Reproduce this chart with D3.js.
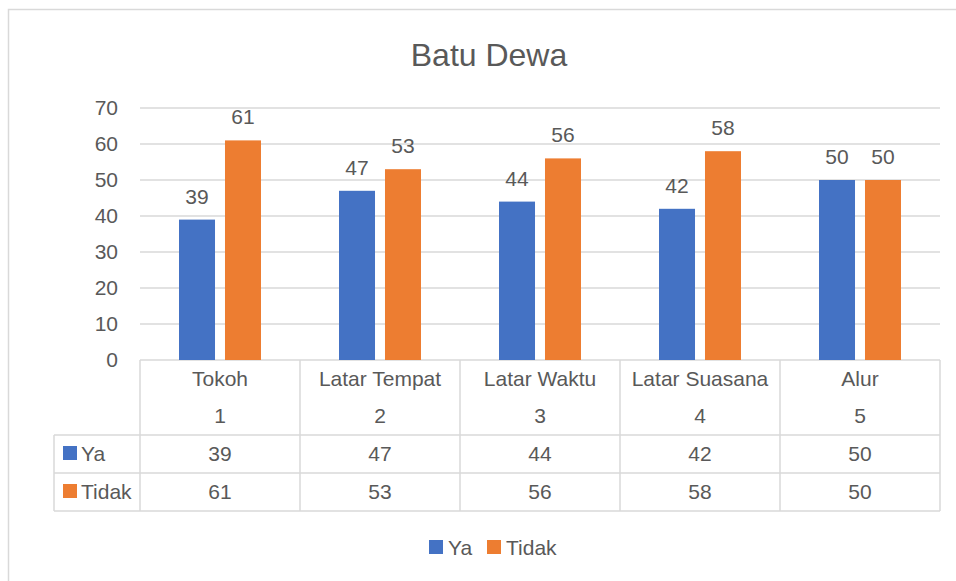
<!DOCTYPE html>
<html>
<head>
<meta charset="utf-8">
<script src="https://cdn.jsdelivr.net/npm/d3@7"></script>
<style>
  body { margin: 0; background: #fff; }
  text { font-family: "Liberation Sans", Arial, sans-serif; fill: #595959; }
</style>
</head>
<body>
<div id="chart"></div>
<script>
// chart data
let categories = ["Tokoh", "Latar Tempat", "Latar Waktu", "Latar Suasana", "Alur"];
let categoryNums = ["1", "2", "3", "4", "5"];
let seriesNames = ["Ya", "Tidak"];
let ya = [39, 47, 44, 42, 50];
let tidak = [61, 53, 56, 58, 50];
let yTicks = [0, 10, 20, 30, 40, 50, 60, 70];
let colors = ["#4472c4", "#ed7d31"];

const width = 956, height = 581;
const plot = { left: 140, right: 940, top: 108, bottom: 360 };
const gridColor = "#d9d9d9";

let svg = d3.select("#chart")
    .append("svg")
    .attr("width", width)
    .attr("height", height);

// outer chart border
svg.append("rect")
    .attr("x", 8.5).attr("y", 9.5)
    .attr("width", 970).attr("height", 600)
    .attr("fill", "none")
    .attr("stroke", gridColor)
    .attr("stroke-width", 1.5);

// title
svg.append("text")
    .attr("x", 489)
    .attr("y", 66)
    .style("text-anchor", "middle")
    .style("font-size", "32px")
    .text("Batu Dewa");

// scales
let x = d3.scaleBand()
    .domain(categories)
    .range([plot.left, plot.right]);

let xInner = d3.scaleBand()
    .domain(seriesNames)
    .range([0, x.bandwidth()])
    .paddingInner(0.217)
    .paddingOuter(0.848);

let y = d3.scaleLinear()
    .domain([0, 70])
    .range([plot.bottom, plot.top]);

// gridlines
svg.append("g")
    .selectAll("line")
    .data(yTicks)
    .enter()
    .append("line")
    .attr("x1", plot.left)
    .attr("x2", plot.right)
    .attr("y1", d => y(d))
    .attr("y2", d => y(d))
    .attr("stroke", gridColor)
    .attr("stroke-width", 1.5);

// y tick labels
svg.append("g")
    .selectAll("text")
    .data(yTicks)
    .enter()
    .append("text")
    .attr("x", 118)
    .attr("y", d => y(d) + 7)
    .style("text-anchor", "end")
    .style("font-size", "21px")
    .text(d => d);

// bars + labels
let rows = categories.map((c, i) => ({ cat: c, vals: [ya[i], tidak[i]] }));

let groups = svg.append("g")
    .selectAll("g")
    .data(rows)
    .enter()
    .append("g")
    .attr("transform", d => `translate(${x(d.cat)}, 0)`);

groups.selectAll("rect")
    .data(d => d.vals.map((v, j) => ({ s: seriesNames[j], v: v, j: j })))
    .enter()
    .append("rect")
    .attr("x", d => xInner(d.s))
    .attr("y", d => y(d.v))
    .attr("width", xInner.bandwidth())
    .attr("height", d => y(0) - y(d.v))
    .attr("fill", d => colors[d.j]);

groups.selectAll("text")
    .data(d => d.vals.map((v, j) => ({ s: seriesNames[j], v: v })))
    .enter()
    .append("text")
    .attr("x", d => xInner(d.s) + xInner.bandwidth() / 2)
    .attr("y", d => y(d.v) - 16)
    .style("text-anchor", "middle")
    .style("font-size", "21px")
    .text(d => d.v);

// data table
const tbl = { left: 54, top: 360, row1: 397, row2: 435, row3: 473, bottom: 511 };
let table = svg.append("g")
    .attr("stroke", gridColor)
    .attr("stroke-width", 1.5);

// horizontal lines
[tbl.row2, tbl.row3, tbl.bottom].forEach(yy => {
    table.append("line")
        .attr("x1", tbl.left).attr("x2", plot.right)
        .attr("y1", yy).attr("y2", yy);
});
// vertical lines at category boundaries
let bounds = categories.map(c => x(c)).concat([plot.right]);
table.selectAll("line.v")
    .data(bounds)
    .enter()
    .append("line")
    .attr("class", "v")
    .attr("x1", d => d).attr("x2", d => d)
    .attr("y1", tbl.top).attr("y2", tbl.bottom);
table.append("line")
    .attr("x1", tbl.left).attr("x2", tbl.left)
    .attr("y1", tbl.row2).attr("y2", tbl.bottom);

// category names and numbers
svg.append("g")
    .selectAll("text")
    .data(categories)
    .enter()
    .append("text")
    .attr("x", d => x(d) + x.bandwidth() / 2)
    .attr("y", 386)
    .style("text-anchor", "middle")
    .style("font-size", "21px")
    .text(d => d);

svg.append("g")
    .selectAll("text")
    .data(categoryNums)
    .enter()
    .append("text")
    .attr("x", (d, i) => x(categories[i]) + x.bandwidth() / 2)
    .attr("y", 423)
    .style("text-anchor", "middle")
    .style("font-size", "21px")
    .text(d => d);

// series rows
let seriesVals = [ya, tidak];
let rowY = [461, 499];
seriesNames.forEach((s, j) => {
    svg.append("rect")
        .attr("x", 63).attr("y", rowY[j] - 15)
        .attr("width", 14).attr("height", 14)
        .attr("fill", colors[j]);
    svg.append("text")
        .attr("x", 81).attr("y", rowY[j])
        .style("font-size", "21px")
        .text(s);
    svg.append("g")
        .selectAll("text")
        .data(seriesVals[j])
        .enter()
        .append("text")
        .attr("x", (d, i) => x(categories[i]) + x.bandwidth() / 2)
        .attr("y", rowY[j])
        .style("text-anchor", "middle")
        .style("font-size", "21px")
        .text(d => d);
});

// legend
let legendX = [429, 487];
seriesNames.forEach((s, j) => {
    svg.append("rect")
        .attr("x", legendX[j]).attr("y", 540)
        .attr("width", 14).attr("height", 14)
        .attr("fill", colors[j]);
    svg.append("text")
        .attr("x", legendX[j] + 19).attr("y", 555)
        .style("font-size", "21px")
        .text(s);
});
</script>
</body>
</html>
